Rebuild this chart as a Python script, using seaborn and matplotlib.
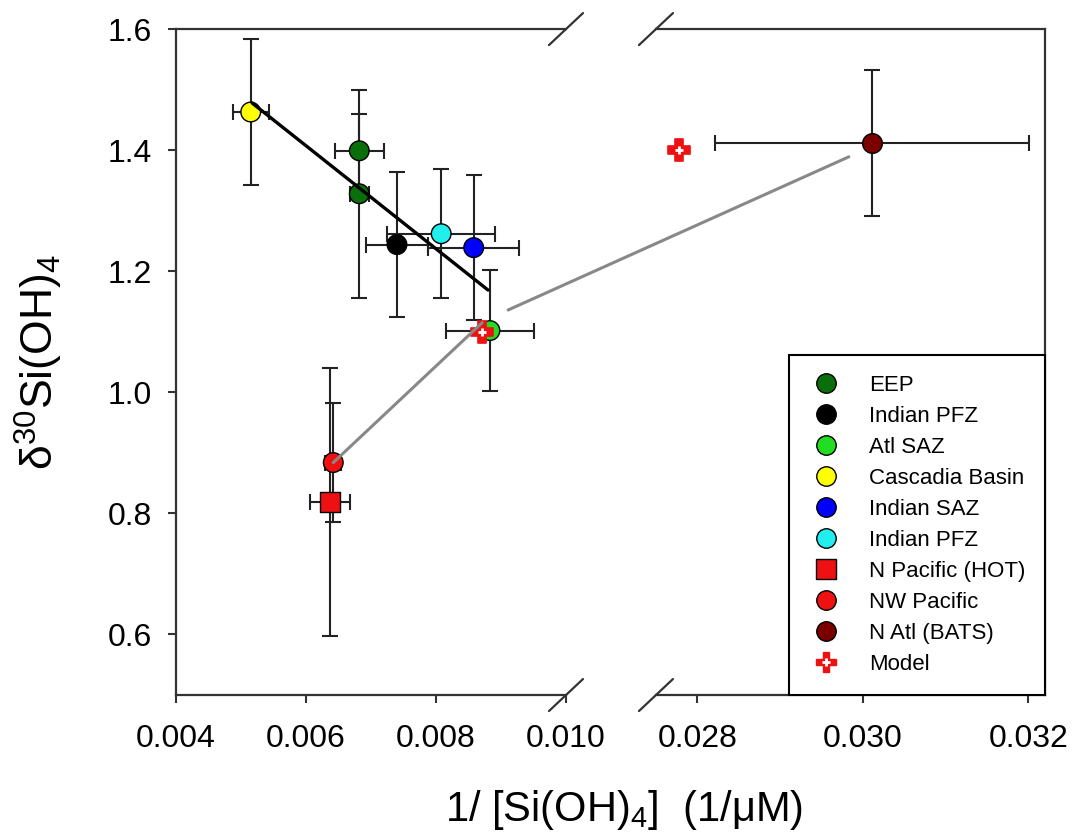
import numpy as np
import pandas as pd
import matplotlib
matplotlib.use("Agg")
import matplotlib.pyplot as plt
import seaborn as sns
from matplotlib.lines import Line2D
from matplotlib.patches import ConnectionPatch
from matplotlib.legend_handler import HandlerTuple

# ---- values ----
sites = ["EEP", "EEP", "Indian PFZ", "Atl SAZ", "Cascadia Basin", "Indian SAZ",
         "Indian PFZ", "N Pacific (HOT)", "NW Pacific", "N Atl (BATS)"]
colours = ["#0a6e0a", "#0a6e0a", "#000000", "#22dd22", "#ffff00", "#0000ff",
           "#22eeee", "#ee1111", "#ee1111", "#7a0000"]
shapes = ["o", "o", "o", "o", "o", "o", "o", "s", "o", "o"]
inv_si = [0.00682, 0.00682, 0.00740, 0.00883, 0.00515, 0.00858,
          0.00808, 0.00637, 0.00642, 0.03011]
d30si = [1.399, 1.328, 1.244, 1.102, 1.463, 1.239, 1.262, 0.819, 0.884, 1.412]
inv_si_err = [0.00038, 0.00015, 0.00048, 0.00068, 0.00028, 0.00070,
              0.00083, 0.00031, 0.00012, 0.0019]
d30si_err = [0.061, 0.172, 0.12, 0.10, 0.12, 0.12, 0.107, 0.222, 0.098, 0.12]

model_x = [0.00871, 0.02778]
model_y = [1.10, 1.40]

# black regression line and grey mixing lines
fit_x = [0.00517, 0.00880]
fit_y = [1.478, 1.169]
mix_x = [0.00642, 0.00871]
mix_y = [0.884, 1.115]
mix2_x = [0.00911, 0.02983]
mix2_y = [1.136, 1.389]

left_xlim = (0.004, 0.010)
right_xlim = (0.0275, 0.0322)

df = pd.DataFrame({"site": sites, "colour": colours, "shape": shapes,
                   "inv_si": inv_si, "d30si": d30si,
                   "xerr": inv_si_err, "yerr": d30si_err})
model = pd.DataFrame({"inv_si": model_x, "d30si": model_y})

# ---- style ----
sns.set_style("ticks")
plt.rcParams["font.family"] = ["Liberation Sans", "DejaVu Sans"]
plt.rcParams["mathtext.fontset"] = "custom"
plt.rcParams["mathtext.rm"] = "Liberation Sans"
plt.rcParams["mathtext.it"] = "Liberation Sans:italic"
plt.rcParams["mathtext.default"] = "regular"
plt.rcParams["text.color"] = "black"
plt.rcParams["xtick.labelcolor"] = "black"
plt.rcParams["ytick.labelcolor"] = "black"

fig = plt.figure(figsize=(10.75, 8.38), dpi=100)
ax1 = fig.add_axes([0.1637, 0.1706, 0.3628, 0.7947])
ax2 = fig.add_axes([0.6102, 0.1706, 0.3619, 0.7947])

spine_col = "#333333"
for ax, lim in [(ax1, left_xlim), (ax2, right_xlim)]:
    sub = df[(df.inv_si > lim[0]) & (df.inv_si < lim[1])]
    ax.errorbar(sub.inv_si, sub.d30si, xerr=sub.xerr, yerr=sub.yerr, fmt="none",
                ecolor="#222222", elinewidth=1.5, capsize=6, capthick=1.5, zorder=2)
    sns.scatterplot(data=sub, x="inv_si", y="d30si", hue="colour",
                    palette={c: c for c in sub.colour.unique()},
                    style="shape", markers={m: m for m in sub["shape"].unique()},
                    s=200, edgecolor="black", linewidth=1, legend=False,
                    ax=ax, zorder=3)
    msub = model[(model.inv_si > lim[0]) & (model.inv_si < lim[1])]
    sns.scatterplot(data=msub, x="inv_si", y="d30si", marker="P", s=230,
                    color="#ee1111", edgecolor="#ee1111", ax=ax, zorder=4)
    ax.plot(msub.inv_si, msub.d30si, ls="none", marker="+", ms=6, mew=2,
            color="white", zorder=4.5)
    ax.set_xlim(*lim)
    ax.set_ylim(0.5, 1.6)
    ax.set_xlabel("")
    ax.set_ylabel("")
    for s in ax.spines.values():
        s.set_color(spine_col)
        s.set_linewidth(1.6)
    ax.tick_params(axis="both", direction="out", length=6, width=1.5,
                   color=spine_col, labelsize=23, labelcolor="black")
    ax.tick_params(axis="x", pad=15)
    ax.tick_params(axis="y", pad=11)

ax1.plot(fit_x, fit_y, color="black", lw=2.4, zorder=5)
ax1.plot(mix_x, mix_y, color="#888888", lw=2.2, zorder=5)
fig.add_artist(ConnectionPatch(xyA=(mix2_x[0], mix2_y[0]), coordsA="data", axesA=ax1,
                               xyB=(mix2_x[1], mix2_y[1]), coordsB="data", axesB=ax2,
                               color="#888888", lw=2.2, shrinkA=0, shrinkB=0,
                               zorder=5))

ax1.spines["right"].set_visible(False)
ax2.spines["left"].set_visible(False)
ax2.tick_params(axis="y", left=False, labelleft=False)
ax1.set_xticks([0.004, 0.006, 0.008, 0.010])
ax2.set_xticks([0.028, 0.030, 0.032])
ax1.set_yticks(np.arange(0.6, 1.61, 0.2))
ax1.xaxis.set_major_formatter(matplotlib.ticker.FormatStrFormatter("%.3f"))
ax2.xaxis.set_major_formatter(matplotlib.ticker.FormatStrFormatter("%.3f"))
ax1.yaxis.set_major_formatter(matplotlib.ticker.FormatStrFormatter("%.1f"))

# break marks
for ax, xpos, w in [(ax1, 1.0, 0.3628), (ax2, 0.0, 0.3619)]:
    dx = 17 / (w * 1075)
    dy = 16 / 666
    for ypos in (0.0, 1.0):
        ax.plot([xpos - dx, xpos + dx], [ypos - dy, ypos + dy], transform=ax.transAxes,
                color=spine_col, lw=1.6, clip_on=False, zorder=6)

ax1.set_ylabel("δ$^{30}$Si(OH)$_4$", fontsize=32, color="black")
ax1.yaxis.set_label_coords(-0.285, 0.5)
fig.text(0.58, 0.034, "1/ [Si(OH)$_4$]  (1/μM)", fontsize=30, ha="center",
         va="center", color="black")

# legend
handles = []
labels = []
for i in [0, 2, 3, 4, 5, 6, 7, 8, 9]:
    handles.append(Line2D([], [], ls="none", marker=shapes[i], ms=14,
                          mfc=colours[i], mec="black", mew=1))
    labels.append(sites[i])
handles.append((Line2D([], [], ls="none", marker="P", ms=15, mfc="#ee1111", mec="#ee1111"),
                Line2D([], [], ls="none", marker="+", ms=6, mew=2, color="white")))
labels.append("Model")
leg = ax2.legend(handles, labels, loc="lower right", bbox_to_anchor=(1.0, 0.0),
                 borderaxespad=0, fontsize=16, frameon=True, fancybox=False,
                 edgecolor="black", framealpha=1, handlelength=1.6,
                 handletextpad=1.1, labelspacing=0.45, borderpad=0.9,
                 handler_map={tuple: HandlerTuple(ndivide=1)})
leg.get_frame().set_linewidth(1.5)
leg.set_zorder(10)
for t in leg.get_texts():
    t.set_color("black")

fig.savefig("out.png", dpi=100, facecolor="white")
